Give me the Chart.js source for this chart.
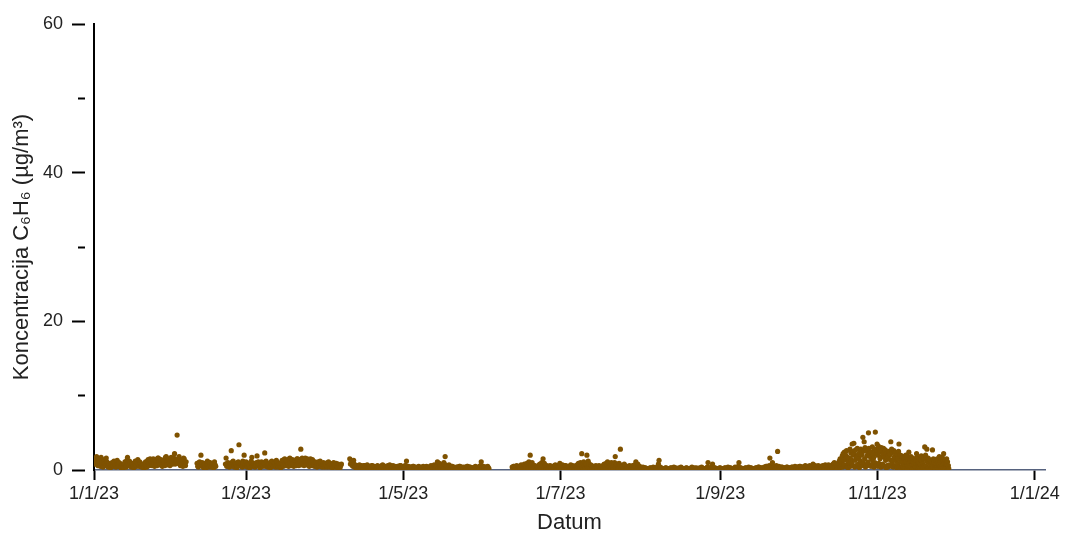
<!DOCTYPE html>
<html>
<head>
<meta charset="utf-8">
<script src="https://cdn.jsdelivr.net/npm/chart.js@4.4.1/dist/chart.umd.min.js"></script>
<style>
  html, body { margin: 0; padding: 0; background: #ffffff; }
  #wrap { width: 1065px; height: 536px; }
</style>
</head>
<body>
<div id="wrap"><canvas id="c" width="1065" height="536"></canvas></div>
<script>
// Benzene (C6H6) concentrations, µg/m³, 2023 — one value every 6 h (every 4 h from 17 Oct).
const jan = [
  1.6,1.2,0.8,1.4, 1.8,1.1,0.6,1.3, 1.5,0.9,0.5,1.7, 1.2,0.7,0.4,1.0, 1.4,0.8,0.6,1.6,
  1.1,0.5,0.4,0.9, 0.8,0.4,0.3,0.7, 1.0,0.6,0.5,1.2, 0.9,0.5,0.4,0.8, 1.3,0.7,0.5,1.0,
  0.9,0.4,0.3,0.6, 0.7,0.4,0.3,0.8, 1.1,0.6,0.4,1.3, 1.7,0.9,0.6,1.2, 1.0,0.5,0.4,0.9,
  0.8,0.5,0.3,0.7, 1.2,0.6,0.5,1.0, 1.4,0.8,0.5,1.1, 0.9,0.5,0.4,0.8, 0.7,0.3,0.3,0.6,
  1.1,0.6,0.4,1.2, 1.4,0.8,0.6,1.5, 1.3,0.9,0.6,1.2, 1.5,0.8,0.5,1.4, 1.2,0.7,0.6,1.6,
  1.6,1.0,0.7,1.3, 1.4,0.8,0.5,1.1, 1.3,0.9,0.6,1.7, 1.8,1.1,0.7,1.4, 1.5,0.9,0.6,1.6,
  1.7,1.2,0.8,1.5
];
const feb = [
  1.6,2.2,0.8,1.3, 1.4,4.7,0.9,1.5, 1.8,1.0,0.6,1.2, 1.3,0.8,0.5,1.6, 1.5,0.9,0.6,1.1,
  null,null,null,null, null,null,null,null, null,null,null,null, null,null,null,null,
  0.9,0.5,0.4,1.0, 1.1,0.6,2.0,0.8, 1.0,0.5,0.3,0.9, 0.8,0.4,0.3,0.7, 1.2,0.6,0.4,1.0,
  1.0,0.5,0.4,0.8, 0.9,0.4,0.3,1.1, 0.7,0.5,null,null,
  null,null,null,null, null,null,null,null, null,null,null,null,
  0.8,1.6,0.5,0.9, 1.0,0.6,0.4,0.8, 0.9,2.6,0.5,1.1, 1.2,0.7,0.4,0.9, 0.8,0.5,0.3,1.0,
  1.1,3.4,0.6,0.9, 0.9,0.5,0.4,1.2, 1.0,2.0,0.5,0.8
];
const mar = [
  1.1,0.6,0.4,0.9, 0.8,0.5,0.3,1.0, 1.2,1.7,0.5,0.9, 0.9,0.5,0.4,0.7, 1.0,1.9,0.6,1.1,
  0.8,0.4,0.3,0.9, 1.1,0.6,0.5,1.0, 0.9,2.3,0.5,1.2, 1.0,0.6,0.4,0.8, 0.8,0.5,0.3,1.1,
  1.2,0.7,0.5,0.9, 1.0,0.5,0.4,1.3, 1.1,0.6,0.4,0.8, 0.9,0.5,0.3,1.0, 1.3,0.7,0.5,1.4,
  1.5,0.8,0.6,1.2, 1.2,0.7,0.5,1.5, 1.6,0.9,0.6,1.3, 1.4,0.8,0.5,1.2, 1.3,0.7,0.6,1.5,
  1.5,0.9,0.6,1.4, 1.2,2.8,0.7,1.6, 1.4,0.8,0.6,1.3, 1.6,1.0,0.7,1.5, 1.3,0.8,0.5,1.2,
  1.5,0.9,0.6,1.4, 1.2,0.7,0.5,1.1, 1.0,0.6,0.4,0.9, 1.1,0.6,0.5,1.2, 0.9,0.5,0.4,0.8,
  1.0,0.6,0.4,0.9
];
const apr = [
  0.9,0.5,0.4,1.0, 1.1,0.6,0.4,0.8, 0.8,0.5,0.3,0.9, 1.0,0.6,0.4,0.7, 0.9,0.4,0.3,0.8,
  0.7,0.5,0.3,0.6, 0.8,null,null,null, null,null,null,null, null,null,null,null,
  null,1.5,0.8,1.2, 1.0,0.6,0.5,1.3, 0.8,0.4,0.3,0.6, 0.6,0.3,0.2,0.5, 0.7,0.4,0.2,0.6,
  0.5,0.3,0.2,0.6, 0.6,0.3,0.2,0.4, 0.7,0.4,0.3,0.5, 0.5,0.3,0.2,0.6, 0.6,0.4,0.2,0.5,
  0.4,0.2,0.2,0.5, 0.6,0.3,0.2,0.4, 0.5,0.3,0.1,0.6, 0.7,0.4,0.2,0.5, 0.5,0.3,0.2,0.4,
  0.6,0.3,0.2,0.7, 0.5,0.2,0.1,0.4, 0.6,0.3,0.2,0.5, 0.4,0.2,0.1,0.5, 0.5,0.3,0.2,0.6,
  0.6,0.3,0.2,0.4
];
const may = [
  0.5,0.3,0.2,0.6, 0.6,1.2,0.2,0.4, 0.5,0.3,0.1,0.4, 0.4,0.2,0.1,0.5, 0.5,0.3,0.2,0.4,
  0.3,0.2,0.1,0.4, 0.5,0.3,0.1,0.3, 0.4,0.2,0.1,0.5, 0.3,0.2,0.1,0.4, 0.5,0.3,0.2,0.4,
  0.4,0.2,0.1,0.6, 0.5,0.3,0.1,0.4, 0.7,0.3,0.2,0.5, 0.6,1.1,0.2,0.8, 0.9,0.4,0.2,0.6,
  0.7,0.3,0.2,1.0, 0.8,1.8,0.3,0.6, 0.5,0.3,0.2,0.7, 0.4,0.2,0.1,0.5, 0.5,0.3,0.1,0.4,
  0.3,0.2,0.1,0.4, 0.4,0.2,0.1,0.5, 0.5,0.3,0.1,0.3, 0.4,0.2,0.1,0.4, 0.3,0.2,0.1,0.5,
  0.5,0.2,0.1,0.4, 0.4,0.3,0.1,0.3, 0.3,0.2,0.1,0.4, 0.5,0.2,0.1,0.3, 0.4,0.2,0.1,0.5,
  0.6,1.1,0.2,0.4
];
const jun = [
  0.5,0.3,0.1,0.4, 0.4,0.2,0.1,0.5, 0.3,0.2,null,null,
  null,null,null,null, null,null,null,null, null,null,null,null, null,null,null,null,
  null,null,null,null, null,null,null,null, null,null,null,null, null,null,null,null,
  null,0.4,0.2,0.5, 0.5,0.3,0.1,0.4, 0.6,0.2,0.1,0.5, 0.4,0.3,0.1,0.7, 0.5,0.2,0.1,0.4,
  0.8,0.3,0.2,0.6, 0.9,0.4,0.2,1.1, 0.7,2.0,0.3,0.8, 1.0,0.4,0.2,0.6, 0.6,0.3,0.1,0.5,
  0.5,0.2,0.1,0.7, 0.8,0.3,0.2,1.0, 0.6,1.5,0.2,0.9, 0.5,0.3,0.1,0.6, 0.4,0.2,0.1,0.5,
  0.6,0.3,0.1,0.4, 0.5,0.2,0.1,0.6, 0.7,0.3,0.2,0.5, 0.6,0.3,0.1,0.9
];
const jul = [
  0.5,0.2,0.1,0.7, 0.4,0.3,0.1,0.6, 0.6,0.2,0.1,0.5, 0.5,0.3,0.1,0.4, 0.7,0.2,0.1,0.6,
  0.4,0.2,0.1,0.5, 0.6,0.3,0.2,0.8, 0.9,0.4,0.2,1.0, 0.7,2.2,0.3,0.9, 1.1,0.5,0.2,0.8,
  0.8,2.0,0.3,1.2, 0.9,0.4,0.2,0.7, 0.6,0.3,0.1,0.5, 0.5,0.2,0.1,0.6, 0.4,0.3,0.1,0.5,
  0.6,0.2,0.1,0.4, 0.5,0.3,0.1,0.7, 0.8,0.3,0.2,0.9, 0.7,1.1,0.2,0.6, 0.9,0.4,0.2,1.0,
  0.6,0.3,0.1,0.8, 1.0,1.8,0.3,0.7, 0.8,0.4,0.2,0.9, 0.7,2.8,0.2,0.6, 0.5,0.3,0.1,0.8,
  0.6,0.2,0.1,0.5, 0.4,0.2,0.1,0.6, 0.5,0.3,0.1,0.4, 0.6,0.2,0.1,0.7, 0.5,1.1,0.1,0.4,
  0.8,0.3,0.1,0.5
];
const aug = [
  0.3,0.1,0.1,0.2, 0.4,0.2,0.1,0.3, 0.3,0.1,0.1,0.2, 0.2,0.1,0.1,0.3, 0.3,0.2,0.1,0.2,
  0.4,0.1,0.1,0.3, 0.3,0.2,0.1,0.5, 0.8,1.3,0.2,0.4, 0.3,0.1,0.1,0.2, 0.2,0.1,0.1,0.3,
  0.3,0.2,0.1,0.2, 0.2,0.1,0.1,0.3, 0.3,0.1,0.1,0.2, 0.4,0.2,0.1,0.3, 0.2,0.1,0.1,0.2,
  0.3,0.1,0.1,0.4, 0.3,0.2,0.1,0.2, 0.2,0.1,0.1,0.3, 0.3,0.1,0.1,0.2, 0.2,0.1,0.1,0.3,
  0.4,0.2,0.1,0.2, 0.3,0.1,0.1,0.3, 0.2,0.1,0.1,0.2, 0.3,0.2,0.1,0.4, 0.3,0.1,0.1,0.2,
  0.2,0.1,0.1,0.3, 0.4,1.0,0.2,0.3, 0.3,0.2,0.1,0.4, 0.8,0.2,0.1,0.3, 0.3,0.1,0.1,0.2,
  0.2,0.1,0.1,0.3
];
const sep = [
  0.3,0.1,0.1,0.2, 0.2,0.1,0.1,0.3, 0.3,0.2,0.1,0.2, 0.4,0.1,0.1,0.3, 0.3,0.1,0.1,0.2,
  0.2,0.1,0.1,0.4, 0.3,0.2,0.1,0.3, 0.5,1.0,0.2,0.3, 0.3,0.1,0.1,0.2, 0.2,0.1,0.1,0.3,
  0.3,0.2,0.1,0.2, 0.4,0.1,0.1,0.3, 0.3,0.1,0.1,0.2, 0.2,0.2,0.1,0.3, 0.3,0.1,0.1,0.4,
  0.4,0.2,0.1,0.3, 0.3,0.1,0.1,0.2, 0.4,0.2,0.1,0.5, 0.5,0.2,0.1,0.4, 0.6,1.6,0.2,0.5,
  0.4,1.0,0.2,0.3, 0.5,0.2,0.1,0.6, 0.4,2.5,0.2,0.5, 0.3,0.2,0.1,0.4, 0.4,0.1,0.1,0.3,
  0.3,0.2,0.1,0.4, 0.4,0.2,0.1,0.3, 0.3,0.1,0.1,0.4, 0.4,0.2,0.1,0.3, 0.5,0.2,0.1,0.4
];
const octEarly = [
  0.4,0.2,0.1,0.5, 0.5,0.2,0.1,0.4, 0.4,0.3,0.1,0.5, 0.6,0.2,0.1,0.4, 0.5,0.3,0.2,0.6,
  0.4,0.2,0.1,0.5, 0.8,0.3,0.2,0.6, 0.5,0.2,0.1,0.4, 0.6,0.3,0.2,0.5, 0.4,0.2,0.1,0.6,
  0.5,0.3,0.2,0.7, 0.6,0.3,0.2,0.5, 0.7,0.3,0.2,0.6, 0.5,0.2,0.1,0.8, 0.7,1.0,0.3,0.6,
  0.8,0.4,0.2,0.9
];
const octLate = [
  0.6,1.2,0.3,1.5,0.4,0.8, 1.1,0.5,1.9,0.4,2.2,1.3, 0.7,2.4,1.4,0.5,2.0,1.6,
  2.6,0.4,1.7,0.9,0.3,1.2, 1.6,0.8,2.8,0.5,2.3,1.4, 0.9,3.5,0.6,2.0,2.5,3.6,
  2.2,0.4,1.3,2.7,0.6,1.8, 1.7,2.9,0.5,0.8,2.1,1.5, 0.3,2.4,1.2,2.8,0.6,2.0,
  2.3,0.6,4.4,1.0,2.6,3.8, 1.5,3.0,0.4,2.7,0.7,1.9, 2.5,0.6,1.1,5.0,2.9,2.2,
  0.7,2.3,1.7,0.5,2.4,1.4, 3.1,0.8,2.1,1.6,0.4,2.8, 1.0,5.1,0.6,2.4,2.7,3.5
];
const nov = [
  2.0,0.5,3.2,0.9,2.9,2.4, 1.5,2.6,0.4,3.0,1.8,0.7, 0.8,2.1,2.9,0.5,1.7,2.5,
  2.7,1.3,0.3,2.2,0.6,1.6, 0.4,1.9,2.5,0.7,2.3,1.4, 2.1,3.8,0.5,2.8,0.9,2.4,
  1.3,0.4,2.6,1.7,2.4,0.6, 2.3,0.5,1.2,0.3,2.1,1.5, 0.8,2.5,3.5,0.4,1.8,2.0,
  1.3,0.3,1.9,1.0,0.5,1.8, 0.4,1.7,0.8,1.5,0.2,1.1, 2.0,1.1,0.3,1.9,0.5,1.4,
  0.6,2.4,1.0,0.3,1.6,1.2, 1.8,0.4,1.2,0.2,1.6,0.9, 0.8,1.5,0.2,1.4,0.4,0.9,
  1.3,2.2,0.5,1.7,0.3,1.1, 0.4,1.0,1.5,0.2,0.8,1.4, 1.9,0.5,1.2,0.9,0.3,1.7,
  1.5,0.6,3.1,0.3,2.0,1.4, 0.5,2.8,1.1,0.2,1.6,1.2, 1.4,0.3,0.9,1.3,0.2,0.7,
  0.5,1.2,2.7,0.3,1.5,1.1, 1.0,0.4,1.4,0.2,1.3,0.8, 0.3,1.5,0.6,1.2,0.2,0.8,
  1.8,0.4,1.1,0.2,1.6,0.9, 0.5,1.7,1.2,0.3,2.2,1.0, 0.9,0.2,1.3,0.8,0.4,1.5,
  0.7,1.1,0.3,0.6,0.2,null
];

// [first day, readings per day, values]
const segments = [
  ['2023-01-01', 4, jan], ['2023-02-01', 4, feb], ['2023-03-01', 4, mar],
  ['2023-04-01', 4, apr], ['2023-05-01', 4, may], ['2023-06-01', 4, jun],
  ['2023-07-01', 4, jul], ['2023-08-01', 4, aug], ['2023-09-01', 4, sep],
  ['2023-10-01', 4, octEarly], ['2023-10-17', 6, octLate], ['2023-11-01', 6, nov]
];

const tickDates = ['2023-01-01', '2023-03-01', '2023-05-01', '2023-07-01', '2023-09-01', '2023-11-01', '2024-01-01'];
const tickLabels = ['1/1/23', '1/3/23', '1/5/23', '1/7/23', '1/9/23', '1/11/23', '1/1/24'];
const yTickValues = [0, 10, 20, 30, 40, 50, 60];
const yLabelled = [0, 20, 40, 60];

const DAY_MS = 86400000;
const ORIGIN = Date.UTC(2023, 0, 1);
function dayIndex(iso) {
  const [y, m, d] = iso.split('-').map(Number);
  return (Date.UTC(y, m - 1, d) - ORIGIN) / DAY_MS;
}

const points = [];
segments.forEach(([start, perDay, vals]) => {
  const d0 = dayIndex(start);
  vals.forEach((v, i) => {
    if (v !== null) points.push({ x: d0 + i / perDay, y: v });
  });
});
const tickPositions = tickDates.map(dayIndex);

const FONT = '"Liberation Sans", Arial, Helvetica, sans-serif';
Chart.defaults.font.family = FONT;

new Chart(document.getElementById('c'), {
  type: 'scatter',
  data: {
    datasets: [{
      data: points,
      pointRadius: 2.6,
      pointHoverRadius: 2.6,
      pointBackgroundColor: '#7f5200',
      pointBorderWidth: 0,
      showLine: false
    }]
  },
  options: {
    responsive: false,
    animation: false,
    events: [],
    layout: { padding: { left: 0, right: 20, top: 24, bottom: 0 } },
    plugins: { legend: { display: false }, tooltip: { enabled: false } },
    scales: {
      x: {
        type: 'linear',
        min: 0,
        max: 369,
        afterFit(scale) { scale.height = 66; },
        afterBuildTicks(scale) { scale.ticks = tickPositions.map(v => ({ value: v })); },
        border: { display: true, color: '#56627e', width: 1.5 },
        grid: { drawOnChartArea: false, drawTicks: true, tickLength: 10, tickWidth: 2, tickColor: '#000000' },
        ticks: {
          autoSkip: false, maxRotation: 0, minRotation: 0, padding: 3,
          color: '#222222', font: { size: 18 },
          callback(value) {
            const i = tickPositions.indexOf(value);
            return i >= 0 ? tickLabels[i] : '';
          }
        },
        title: { display: true, text: 'Datum', color: '#222222', font: { size: 22 }, padding: { top: 0, bottom: 0 } }
      },
      y: {
        min: 0,
        max: 60,
        afterFit(scale) { scale.width = 94; },
        afterBuildTicks(scale) { scale.ticks = yTickValues.map(v => ({ value: v })); },
        border: { display: true, color: '#000000', width: 2 },
        grid: {
          drawOnChartArea: false, drawTicks: true, tickLength: 22, tickWidth: 2, tickColor: '#000000',
          tickBorderDash(ctx) {
            const v = ctx.tick ? ctx.tick.value : 0;
            return yLabelled.includes(v) ? [13, 60] : [0, 6, 7, 60];
          }
        },
        ticks: {
          padding: 9, color: '#222222', font: { size: 18 },
          callback(value) { return yLabelled.includes(value) ? String(value) : ''; }
        },
        title: { display: true, text: 'Koncentracija C₆H₆ (µg/m³)', color: '#222222', font: { size: 22 }, padding: { top: 9, bottom: 0 } }
      }
    }
  }
});
</script>
</body>
</html>
